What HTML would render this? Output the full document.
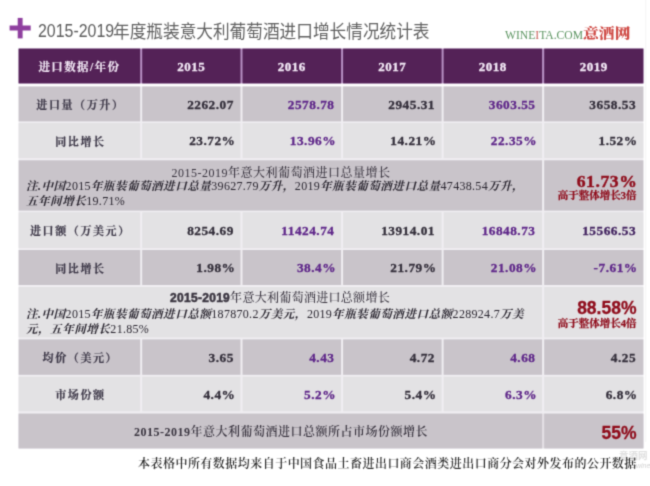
<!DOCTYPE html>
<html lang="zh"><head><meta charset="utf-8"><title>2015-2019年度瓶装意大利葡萄酒进口增长情况统计表</title>
<style>
html,body{margin:0;padding:0;background:#fff;}
body{width:650px;height:486px;position:relative;overflow:hidden;font-family:"Liberation Serif","Noto Serif CJK SC",serif;}
#w{position:absolute;left:0;top:0;width:650px;height:486px;overflow:hidden;background:#fff;filter:url(#bl);}
#bg{position:absolute;left:0;top:0;}
.a{position:absolute;}
.c{position:absolute;display:flex;align-items:center;box-sizing:border-box;white-space:nowrap;}
.c>span{position:relative;top:1px;}
.h{color:#f3e9f6;font-weight:bold;font-size:13px;letter-spacing:0.5px;justify-content:center;}
.lab{justify-content:center;font-weight:bold;font-size:11px;color:#3d3848;letter-spacing:1.6px;-webkit-text-stroke:0.2px #3d3848;}
.lab>span{top:0.3px;left:1.0px;}
.h>span{top:1.3px;-webkit-text-stroke:0.3px #f3e9f6;}
.h.hl>span{top:0.4px;-webkit-text-stroke:0.2px #f3e9f6;}
.num{justify-content:flex-end;font-weight:bold;font-size:13.3px;padding-right:6.6px;letter-spacing:0.5px;-webkit-text-stroke:0.3px currentColor;}
.num>span{top:0.6px;}
.pc>span{top:0.3px;}
.g{color:#332e3a;}.p{color:#5e2689;}.dp{color:#422360;}
.t1,.t2{top:17px;height:28px;line-height:28px;color:#5c5c5c;white-space:nowrap;transform-origin:0 50%;}
.t1{left:38px;font-family:"Liberation Sans",sans-serif;font-size:19px;transform:scaleX(0.838);}
.t2{left:113.2px;top:16.2px;font-family:"Noto Sans CJK SC",sans-serif;font-size:18px;font-weight:400;transform:scaleX(0.9255);color:#606060;}
.note{font-style:italic;font-weight:700;font-size:11.5px;color:#2a2630;white-space:nowrap;letter-spacing:0.55px;}
.note i{font-style:normal;font-weight:normal;font-size:12px;letter-spacing:0.3px;}
.mt{font-weight:bold;font-size:12px;color:#3a3540;white-space:nowrap;letter-spacing:0.5px;}
.big{font-weight:bold;font-size:17.6px;letter-spacing:0.6px;color:#8f0c1b;white-space:nowrap;text-align:right;-webkit-text-stroke:0.45px currentColor;}
.sb{font-family:"Liberation Sans","Noto Sans CJK SC",sans-serif;font-size:17.5px;letter-spacing:0;-webkit-text-stroke:0.3px currentColor;}
.sm{font-weight:bold;font-size:10.5px;color:#8f0c1b;white-space:nowrap;text-align:right;-webkit-text-stroke:0.25px currentColor;}
</style></head><body><div id="w">

<svg id="bg" width="650" height="486" viewBox="0 0 650 486"><defs><filter id="bl" x="0" y="0" width="100%" height="100%" color-interpolation-filters="sRGB"><feConvolveMatrix order="3" kernelMatrix="0.0277 0.1110 0.0277 0.1110 0.4452 0.1110 0.0277 0.1110 0.0277" edgeMode="duplicate" preserveAlpha="true"/></filter></defs><rect x="9.60" y="25.50" width="21.10" height="5.00" fill="#8f409f"/><rect x="17.70" y="17.90" width="4.90" height="20.50" fill="#8f409f"/><rect x="645.20" y="0.00" width="1.00" height="442.00" fill="#f4f4f4"/><rect x="18.60" y="86.50" width="624.80" height="361.90" fill="#f0eef2"/><rect x="18.60" y="48.60" width="624.80" height="34.80" fill="#b791c3"/><rect x="18.60" y="48.60" width="121.60" height="34.80" fill="#542257"/><rect x="142.20" y="48.60" width="98.30" height="34.80" fill="#542257"/><rect x="242.50" y="48.60" width="98.60" height="34.80" fill="#542257"/><rect x="343.10" y="48.60" width="98.50" height="34.80" fill="#542257"/><rect x="443.60" y="48.60" width="98.50" height="34.80" fill="#542257"/><rect x="544.20" y="48.60" width="99.20" height="34.80" fill="#542257"/><rect x="18.60" y="86.50" width="121.60" height="34.90" fill="#c9c4ca"/><rect x="142.20" y="86.50" width="98.30" height="34.90" fill="#c9c4ca"/><rect x="242.50" y="86.50" width="98.60" height="34.90" fill="#c9c4ca"/><rect x="343.10" y="86.50" width="98.50" height="34.90" fill="#c9c4ca"/><rect x="443.60" y="86.50" width="98.50" height="34.90" fill="#c9c4ca"/><rect x="544.20" y="86.50" width="99.20" height="34.90" fill="#c9c4ca"/><rect x="18.60" y="123.00" width="121.60" height="35.20" fill="#e3e2e4"/><rect x="142.20" y="123.00" width="98.30" height="35.20" fill="#e3e2e4"/><rect x="242.50" y="123.00" width="98.60" height="35.20" fill="#e3e2e4"/><rect x="343.10" y="123.00" width="98.50" height="35.20" fill="#e3e2e4"/><rect x="443.60" y="123.00" width="98.50" height="35.20" fill="#e3e2e4"/><rect x="544.20" y="123.00" width="99.20" height="35.20" fill="#e3e2e4"/><rect x="18.60" y="212.20" width="121.60" height="36.00" fill="#e3e2e4"/><rect x="142.20" y="212.20" width="98.30" height="36.00" fill="#e3e2e4"/><rect x="242.50" y="212.20" width="98.60" height="36.00" fill="#e3e2e4"/><rect x="343.10" y="212.20" width="98.50" height="36.00" fill="#e3e2e4"/><rect x="443.60" y="212.20" width="98.50" height="36.00" fill="#e3e2e4"/><rect x="544.20" y="212.20" width="99.20" height="36.00" fill="#e3e2e4"/><rect x="18.60" y="250.00" width="121.60" height="35.00" fill="#c9c4ca"/><rect x="142.20" y="250.00" width="98.30" height="35.00" fill="#c9c4ca"/><rect x="242.50" y="250.00" width="98.60" height="35.00" fill="#c9c4ca"/><rect x="343.10" y="250.00" width="98.50" height="35.00" fill="#c9c4ca"/><rect x="443.60" y="250.00" width="98.50" height="35.00" fill="#c9c4ca"/><rect x="544.20" y="250.00" width="99.20" height="35.00" fill="#c9c4ca"/><rect x="18.60" y="339.40" width="121.60" height="35.40" fill="#c9c4ca"/><rect x="142.20" y="339.40" width="98.30" height="35.40" fill="#c9c4ca"/><rect x="242.50" y="339.40" width="98.60" height="35.40" fill="#c9c4ca"/><rect x="343.10" y="339.40" width="98.50" height="35.40" fill="#c9c4ca"/><rect x="443.60" y="339.40" width="98.50" height="35.40" fill="#c9c4ca"/><rect x="544.20" y="339.40" width="99.20" height="35.40" fill="#c9c4ca"/><rect x="18.60" y="376.60" width="121.60" height="34.70" fill="#e3e2e4"/><rect x="142.20" y="376.60" width="98.30" height="34.70" fill="#e3e2e4"/><rect x="242.50" y="376.60" width="98.60" height="34.70" fill="#e3e2e4"/><rect x="343.10" y="376.60" width="98.50" height="34.70" fill="#e3e2e4"/><rect x="443.60" y="376.60" width="98.50" height="34.70" fill="#e3e2e4"/><rect x="544.20" y="376.60" width="99.20" height="34.70" fill="#e3e2e4"/><rect x="18.60" y="160.30" width="523.50" height="50.30" fill="#c9c4ca"/><rect x="544.20" y="160.30" width="99.20" height="50.30" fill="#c9c4ca"/><rect x="18.60" y="287.00" width="523.50" height="50.50" fill="#e3e2e4"/><rect x="544.20" y="287.00" width="99.20" height="50.50" fill="#e3e2e4"/><rect x="18.60" y="413.60" width="624.80" height="34.80" fill="#e4e0e5"/><rect x="18.60" y="413.60" width="523.50" height="34.80" fill="#c9c4ca"/><rect x="544.20" y="413.60" width="99.20" height="34.80" fill="#c9c4ca"/></svg>
<div class="a t1">2015-2019</div><div class="a t2">年度瓶装意大利葡萄酒进口增长情况统计表</div>
<div class="a" style="left:505px;top:24px;height:18px;line-height:18px;white-space:nowrap;"><span style="font-size:11.6px;color:#5b9460;position:relative;top:0.7px;">WINE<span style="color:#c9605c">I</span>TA.COM</span><span style="display:inline-block;font-size:13.2px;transform:scaleX(1.2);transform-origin:0 50%;margin-left:-0.3px;color:#cf4a45;font-weight:900;position:relative;top:0.3px;">意酒网</span></div>
<div class="a" style="left:619px;top:449px;line-height:14px;font-size:9.5px;font-weight:bold;color:#e0e0e0;white-space:nowrap;font-family:'Liberation Sans','Noto Sans CJK SC',sans-serif;">意酒网</div>
<div class="a" style="left:636px;top:461px;line-height:10px;font-size:7px;font-style:italic;color:#d4d4d4;white-space:nowrap;font-family:'Liberation Sans',sans-serif;">wineita.com</div>
<div class="c h hl" style="left:18.6px;top:48.6px;width:121.6px;height:34.8px;font-size:11.5px;letter-spacing:1.4px;"><span>进口数据/年份</span></div>
<div class="c h" style="left:142.2px;top:48.6px;width:98.3px;height:34.8px;"><span>2015</span></div>
<div class="c h" style="left:242.5px;top:48.6px;width:98.6px;height:34.8px;"><span>2016</span></div>
<div class="c h" style="left:343.1px;top:48.6px;width:98.5px;height:34.8px;"><span>2017</span></div>
<div class="c h" style="left:443.6px;top:48.6px;width:98.5px;height:34.8px;"><span>2018</span></div>
<div class="c h" style="left:544.2px;top:48.6px;width:99.2px;height:34.8px;"><span>2019</span></div>
<div class="c lab" style="left:18.6px;top:86.5px;width:121.6px;height:34.9px;"><span>进口量（万升）</span></div>
<div class="c num g" style="left:142.2px;top:86.5px;width:98.3px;height:34.9px;padding-right:6.6px;"><span>2262.07</span></div>
<div class="c num p" style="left:242.5px;top:86.5px;width:98.6px;height:34.9px;padding-right:6.6px;"><span>2578.78</span></div>
<div class="c num g" style="left:343.1px;top:86.5px;width:98.5px;height:34.9px;padding-right:6.6px;"><span>2945.31</span></div>
<div class="c num p" style="left:443.6px;top:86.5px;width:98.5px;height:34.9px;padding-right:6.6px;"><span>3603.55</span></div>
<div class="c num g" style="left:544.2px;top:86.5px;width:99.2px;height:34.9px;padding-right:7.3px;"><span>3658.53</span></div>
<div class="c lab" style="left:18.6px;top:123.0px;width:121.6px;height:35.2px;"><span>同比增长</span></div>
<div class="c num g pc" style="left:142.2px;top:123.0px;width:98.3px;height:35.2px;padding-right:5.1px;"><span>23.72%</span></div>
<div class="c num p pc" style="left:242.5px;top:123.0px;width:98.6px;height:35.2px;padding-right:5.1px;"><span>13.96%</span></div>
<div class="c num g pc" style="left:343.1px;top:123.0px;width:98.5px;height:35.2px;padding-right:5.1px;"><span>14.21%</span></div>
<div class="c num p pc" style="left:443.6px;top:123.0px;width:98.5px;height:35.2px;padding-right:5.1px;"><span>22.35%</span></div>
<div class="c num g pc" style="left:544.2px;top:123.0px;width:99.2px;height:35.2px;padding-right:5.8px;"><span>1.52%</span></div>
<div class="c lab" style="left:18.6px;top:212.2px;width:121.6px;height:36.0px;"><span>进口额（万美元）</span></div>
<div class="c num g" style="left:142.2px;top:212.2px;width:98.3px;height:36.0px;padding-right:6.6px;"><span>8254.69</span></div>
<div class="c num p" style="left:242.5px;top:212.2px;width:98.6px;height:36.0px;padding-right:6.6px;"><span>11424.74</span></div>
<div class="c num g" style="left:343.1px;top:212.2px;width:98.5px;height:36.0px;padding-right:6.6px;"><span>13914.01</span></div>
<div class="c num p" style="left:443.6px;top:212.2px;width:98.5px;height:36.0px;padding-right:6.6px;"><span>16848.73</span></div>
<div class="c num dp" style="left:544.2px;top:212.2px;width:99.2px;height:36.0px;padding-right:7.3px;"><span>15566.53</span></div>
<div class="c lab" style="left:18.6px;top:250.0px;width:121.6px;height:35.0px;"><span>同比增长</span></div>
<div class="c num g pc" style="left:142.2px;top:250.0px;width:98.3px;height:35.0px;padding-right:5.1px;"><span>1.98%</span></div>
<div class="c num p pc" style="left:242.5px;top:250.0px;width:98.6px;height:35.0px;padding-right:5.1px;"><span>38.4%</span></div>
<div class="c num g pc" style="left:343.1px;top:250.0px;width:98.5px;height:35.0px;padding-right:5.1px;"><span>21.79%</span></div>
<div class="c num p pc" style="left:443.6px;top:250.0px;width:98.5px;height:35.0px;padding-right:5.1px;"><span>21.08%</span></div>
<div class="c num p pc" style="left:544.2px;top:250.0px;width:99.2px;height:35.0px;padding-right:5.8px;"><span>-7.61%</span></div>
<div class="c lab" style="left:18.6px;top:339.4px;width:121.6px;height:35.4px;"><span>均价（美元）</span></div>
<div class="c num g" style="left:142.2px;top:339.4px;width:98.3px;height:35.4px;padding-right:6.6px;"><span>3.65</span></div>
<div class="c num p" style="left:242.5px;top:339.4px;width:98.6px;height:35.4px;padding-right:6.6px;"><span>4.43</span></div>
<div class="c num g" style="left:343.1px;top:339.4px;width:98.5px;height:35.4px;padding-right:6.6px;"><span>4.72</span></div>
<div class="c num p" style="left:443.6px;top:339.4px;width:98.5px;height:35.4px;padding-right:6.6px;"><span>4.68</span></div>
<div class="c num g" style="left:544.2px;top:339.4px;width:99.2px;height:35.4px;padding-right:7.3px;"><span>4.25</span></div>
<div class="c lab" style="left:18.6px;top:376.6px;width:121.6px;height:34.7px;"><span>市场份额</span></div>
<div class="c num g pc" style="left:142.2px;top:377.8px;width:98.3px;height:33.5px;padding-right:5.1px;"><span>4.4%</span></div>
<div class="c num p pc" style="left:242.5px;top:377.8px;width:98.6px;height:33.5px;padding-right:5.1px;"><span>5.2%</span></div>
<div class="c num g pc" style="left:343.1px;top:377.8px;width:98.5px;height:33.5px;padding-right:5.1px;"><span>5.4%</span></div>
<div class="c num p pc" style="left:443.6px;top:377.8px;width:98.5px;height:33.5px;padding-right:5.1px;"><span>6.3%</span></div>
<div class="c num g pc" style="left:544.2px;top:377.8px;width:99.2px;height:33.5px;padding-right:5.8px;"><span>6.8%</span></div>
<div class="a mt" style="left:171.5px;top:166px;line-height:15px;font-weight:500;">2015-2019年意大利葡萄酒进口总量增长</div>
<div class="a note" style="left:26px;top:178.6px;line-height:15.2px;">注.中国<i>2015</i>年瓶装葡萄酒进口总量<i>39627.79</i>万升，<i>2019</i>年瓶装葡萄酒进口总量<i>47438.54</i>万升，<br>五年间增长<i>19.71%</i></div>
<div class="a big" style="right:12.6px;top:169px;line-height:24px;">61.73%</div>
<div class="a sm" style="right:13.5px;top:189px;line-height:14px;">高于整体增长3倍</div>
<div class="a mt" style="left:170px;top:291px;line-height:15px;font-weight:500;letter-spacing:0.3px;"><b style="font-family:'Liberation Sans',sans-serif;font-weight:bold;-webkit-text-stroke:0.5px #3a3540;">2015-2019</b>年意大利葡萄酒进口总额增长</div>
<div class="a note" style="left:26px;top:306.8px;line-height:14.8px;">注.中国<i>2015</i>年瓶装葡萄酒进口总额<i>187870.2</i>万美元，<i>2019</i>年瓶装葡萄酒进口总额<i>228924.7</i>万美<br>元，五年间增长<i>21.85%</i></div>
<div class="a big sb" style="right:13.5px;top:295.5px;line-height:24px;">88.58%</div>
<div class="a sm" style="right:13.5px;top:316.8px;line-height:14px;">高于整体增长4倍</div>
<div class="a mt" style="left:134px;top:424px;line-height:16px;font-weight:600;">2015-2019年意大利葡萄酒进口总额所占市场份额增长</div>
<div class="a big sb" style="right:13.5px;top:420.5px;line-height:24px;">55%</div>
<div class="a" style="left:138px;top:455px;line-height:18px;font-size:12px;color:#2a2a2a;white-space:nowrap;letter-spacing:0.47px;font-weight:600;">本表格中所有数据均来自于中国食品土畜进出口商会酒类进出口商分会对外发布的公开数据</div>
</div></body></html>
